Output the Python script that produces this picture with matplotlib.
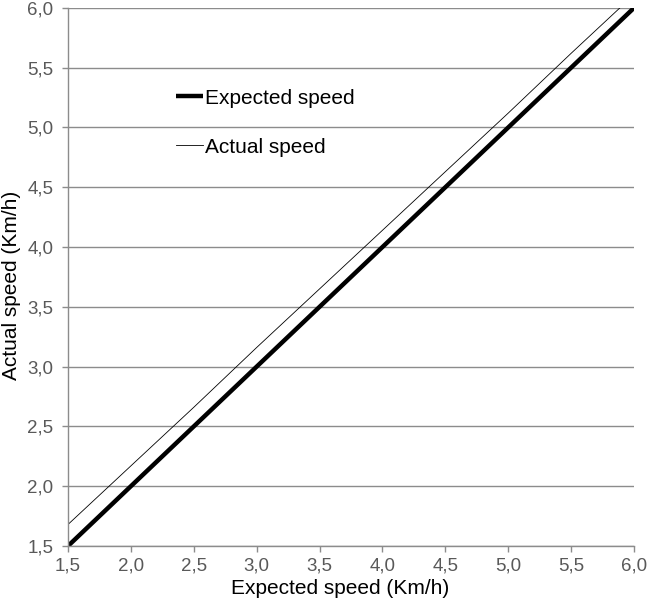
import matplotlib.pyplot as plt
from matplotlib.ticker import FuncFormatter, MultipleLocator

plt.rcParams['font.family'] = ['Liberation Sans', 'DejaVu Sans']

expected_x = [1.5, 2.0, 2.5, 3.0, 3.5, 4.0, 4.5, 5.0, 5.5, 6.0]
expected_speed = [1.5, 2.0, 2.5, 3.0, 3.5, 4.0, 4.5, 5.0, 5.5, 6.0]
actual_speed = [1.68, 2.17, 2.66, 3.16, 3.65, 4.14, 4.63, 5.12, 5.62, 6.11]

grey = '#8c8c8c'
label_grey = '#595959'

fig = plt.figure(figsize=(6.5, 6.06), dpi=100)
ax = fig.add_axes([0.1046, 0.099, 0.8708, 0.888])

ax.plot(expected_x, expected_speed, color='black', lw=3.2, label='Expected speed',
        solid_capstyle='butt')
ax.plot(expected_x, actual_speed, color='black', lw=0.6, label='Actual speed')

ax.set_xlim(1.5, 6.0)
ax.set_ylim(1.5, 6.0)
ax.xaxis.set_major_locator(MultipleLocator(0.5))
ax.yaxis.set_major_locator(MultipleLocator(0.5))
fmt = FuncFormatter(lambda v, p: f'{v:.1f}'.replace('.', ','))
ax.xaxis.set_major_formatter(fmt)
ax.yaxis.set_major_formatter(fmt)

ax.grid(axis='y', color=grey, lw=1.0)
ax.set_axisbelow(True)
for side in ['top', 'right']:
    ax.spines[side].set_visible(False)
for side in ['left', 'bottom']:
    ax.spines[side].set_color(grey)
    ax.spines[side].set_linewidth(1.0)
ax.tick_params(axis='both', direction='out', length=4.5, width=1.0, color=grey,
               labelcolor=label_grey, labelsize=13.5, pad=6)
ax.tick_params(axis='x', pad=4)

ax.set_xlabel('Expected speed (Km/h)', fontsize=15)
ax.set_ylabel('Actual speed (Km/h)', fontsize=15)
ax.xaxis.set_label_coords(0.48, -0.062)
ax.yaxis.set_label_coords(-0.083, 0.485)

ax.legend(loc='upper left', bbox_to_anchor=(0.158, 0.885), frameon=False, fontsize=15,
          handlelength=1.3, handletextpad=0.1, labelspacing=1.45)

fig.savefig('out.png', dpi=100)
